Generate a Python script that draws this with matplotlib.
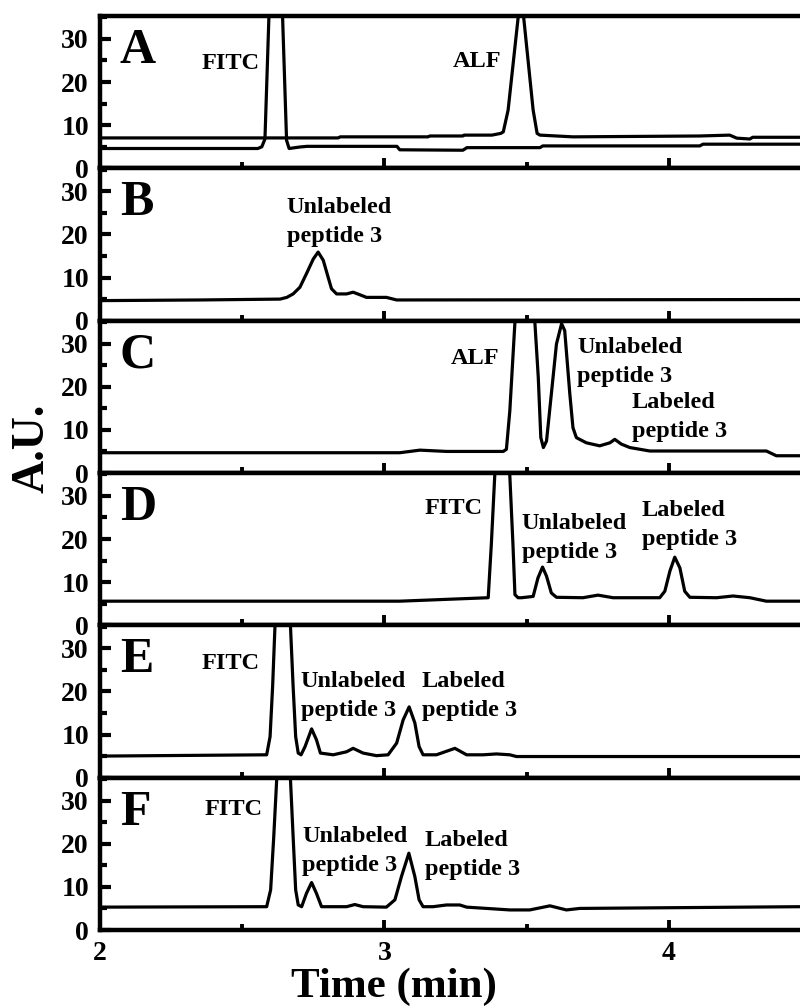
import matplotlib
matplotlib.use("Agg")
import matplotlib.pyplot as plt
from matplotlib.ticker import MultipleLocator

plt.rcParams['font.family'] = ['Liberation Serif', 'DejaVu Serif']
plt.rcParams['font.weight'] = 'bold'

# ---------------- data (time in min, signal in A.U.) ----------------
# Panel A, trace with FITC peak
tA1 = [2.000, 2.555, 2.569, 2.580, 2.618, 2.656, 2.665, 2.703, 2.728, 3.044, 3.054,
       3.276, 3.290, 3.547, 3.557, 4.109, 4.120, 4.460]
yA1 = [4.6, 4.6, 5.0, 6.8, 84.0, 6.5, 4.6, 4.95, 5.1, 5.1, 4.3,
       4.2, 4.8, 4.8, 5.2, 5.2, 5.6, 5.6]
# Panel A, trace with ALF peak
tA2 = [2.000, 2.837, 2.845, 3.153, 3.160, 3.276, 3.280, 3.378, 3.409, 3.418, 3.435,
       3.470, 3.480, 3.490, 3.523, 3.537, 3.547, 3.663, 4.109, 4.214, 4.239, 4.285,
       4.295, 4.460]
yA2 = [7.05, 7.05, 7.3, 7.3, 7.5, 7.5, 7.7, 7.7, 8.1, 8.45, 13.5,
       34.8, 45.0, 34.8, 13.5, 8.1, 7.7, 7.3, 7.5, 7.7, 7.0, 6.8,
       7.2, 7.2]
# Panel B
tB = [2.000, 2.351, 2.633, 2.657, 2.679, 2.703, 2.726, 2.750, 2.767, 2.785, 2.802,
      2.814, 2.832, 2.867, 2.890, 2.914, 2.937, 3.007, 3.043, 4.460]
yB = [4.65, 4.8, 5.0, 5.4, 6.2, 7.75, 10.9, 14.3, 15.9, 14.0, 10.1,
      7.4, 6.2, 6.2, 6.6, 6.0, 5.4, 5.4, 4.8, 4.9]
# Panel C
tC = [2.000, 3.054, 3.125, 3.219, 3.418, 3.429, 3.441, 3.459, 3.494, 3.529, 3.541,
      3.550, 3.559, 3.570, 3.587, 3.605, 3.623, 3.634, 3.652, 3.663, 3.675, 3.710,
      3.757, 3.793, 3.810, 3.833, 3.863, 3.933, 4.343, 4.378, 4.460]
yC = [4.7, 4.7, 5.3, 5.0, 5.0, 5.5, 14.4, 35.0, 72.0, 35.0, 22.2,
      8.2, 5.9, 7.4, 18.3, 29.9, 34.6, 33.0, 18.3, 10.5, 8.2, 7.0,
      6.3, 7.0, 7.8, 6.7, 5.9, 5.1, 5.1, 4.0, 4.0]
# Panel D
tD = [2.000, 3.054, 3.365, 3.376, 3.388, 3.414, 3.441, 3.452, 3.459, 3.470, 3.482,
      3.523, 3.540, 3.556, 3.570, 3.587, 3.605, 3.698, 3.751, 3.804, 3.968, 3.986,
      4.004, 4.021, 4.039, 4.056, 4.074, 4.168, 4.226, 4.285, 4.343, 4.460]
yD = [5.6, 5.6, 6.4, 18.8, 34.7, 70.0, 34.7, 18.8, 7.1, 6.4, 6.4,
      6.7, 11.0, 13.5, 11.4, 7.5, 6.5, 6.4, 7.0, 6.4, 6.4, 7.9,
      12.6, 15.8, 13.3, 7.9, 6.5, 6.4, 6.8, 6.4, 5.6, 5.6]
# Panel E
tE = [2.000, 2.586, 2.598, 2.607, 2.615, 2.642, 2.670, 2.679, 2.688, 2.697, 2.707,
      2.721, 2.744, 2.761, 2.775, 2.820, 2.867, 2.890, 2.925, 2.972, 3.013, 3.043,
      3.066, 3.087, 3.107, 3.122, 3.136, 3.183, 3.248, 3.289, 3.347, 3.394, 3.441,
      3.464, 4.460]
yE = [5.0, 5.3, 9.5, 21.2, 34.7, 80.0, 34.7, 21.2, 9.5, 5.7, 5.3,
      7.2, 11.3, 8.8, 5.7, 5.3, 6.0, 6.8, 5.7, 5.1, 5.3, 8.0,
      13.4, 16.4, 12.7, 7.2, 5.3, 5.3, 6.8, 5.3, 5.3, 5.5, 5.3,
      4.9, 4.9]
# Panel F
tF = [2.000, 2.586, 2.600, 2.611, 2.621, 2.645, 2.670, 2.679, 2.688, 2.697, 2.709,
      2.726, 2.744, 2.761, 2.779, 2.867, 2.896, 2.925, 3.007, 3.037, 3.060, 3.086,
      3.107, 3.122, 3.136, 3.171, 3.218, 3.265, 3.289, 3.441, 3.511, 3.582, 3.640,
      3.687, 4.460]
yF = [5.3, 5.4, 9.3, 21.7, 34.5, 67.0, 34.5, 21.7, 9.3, 5.8, 5.4,
      8.5, 11.0, 8.5, 5.4, 5.4, 5.9, 5.4, 5.3, 7.0, 12.4, 17.8,
      12.4, 7.0, 5.4, 5.4, 5.8, 5.8, 5.3, 4.65, 4.65, 5.6, 4.65,
      5.0, 5.4]

panel_letters = ['A', 'B', 'C', 'D', 'E', 'F']
xticks = [2, 3, 4]
yticks = [0, 10, 20, 30]

# annotations: (panel index, text, x, y of first-line baseline)
annotations = [
    (0, 'FITC', 2.358, 23.0),
    (0, 'ALF', 3.240, 23.5),
    (1, 'Unlabeled\npeptide 3', 2.657, 24.9),
    (2, 'ALF', 3.234, 25.3),
    (2, 'Unlabeled\npeptide 3', 3.677, 27.9),
    (2, 'Labeled\npeptide 3', 3.870, 15.1),
    (3, 'FITC', 3.142, 25.8),
    (3, 'Unlabeled\npeptide 3', 3.483, 22.3),
    (3, 'Labeled\npeptide 3', 3.905, 25.3),
    (4, 'FITC', 2.358, 25.1),
    (4, 'Unlabeled\npeptide 3', 2.706, 20.9),
    (4, 'Labeled\npeptide 3', 3.132, 20.9),
    (5, 'FITC', 2.369, 26.7),
    (5, 'Unlabeled\npeptide 3', 2.710, 20.5),
    (5, 'Labeled\npeptide 3', 3.142, 19.5),
]

traces = [[(tA1, yA1), (tA2, yA2)], [(tB, yB)], [(tC, yC)], [(tD, yD)],
          [(tE, yE)], [(tF, yF)]]

# ---------------- figure ----------------
fig = plt.figure(figsize=(8, 10.08), dpi=100)
left = 100 / 800
width = 711 / 800
bottom0 = 78 / 1008
ph = 152.33 / 1008
ymax = 35.3
px_per_unit = 152.33 / ymax
line_gap = 29 / px_per_unit

axes = []
for i in range(6):
    b = bottom0 + (5 - i) * ph
    ax = fig.add_axes([left, b, width, ph])
    axes.append(ax)
    for t, y in traces[i]:
        ax.plot(t, y, color='black', lw=2.3, solid_joinstyle='round',
                solid_capstyle='round')
    ax.set_xlim(2, 4.5)
    ax.set_ylim(0, ymax)
    ax.xaxis.set_minor_locator(MultipleLocator(0.5))
    ax.yaxis.set_minor_locator(MultipleLocator(5))
    ax.set_yticks(yticks)
    ax.set_xticks(xticks)
    for s in ax.spines.values():
        s.set_linewidth(3.2)
    ax.spines['right'].set_visible(False)
    ax.tick_params(axis='both', which='both', direction='in', top=False, right=False)
    ax.tick_params(axis='x', which='major', length=7, width=2.8, pad=8, labelsize=20)
    ax.tick_params(axis='x', which='minor', length=4, width=2.8)
    ax.tick_params(axis='y', which='major', length=8, width=3, pad=8, labelsize=20)
    ax.tick_params(axis='y', which='minor', length=5, width=3)
    if i < 5:
        ax.tick_params(axis='x', labelbottom=False)
    ax.text(2.07, ymax - 47 / px_per_unit, panel_letters[i], fontsize=36,
            fontweight='bold', ha='left', va='baseline')

for i, txt, x, y in annotations:
    for k, line in enumerate(txt.split('\n')):
        axes[i].text(x, y - k * line_gap, line, fontsize=17.5, fontweight='bold',
                     ha='left', va='baseline')

fig.text(394 / 800, 11 / 1008, 'Time (min)', fontsize=31, fontweight='bold',
         ha='center', va='baseline')
fig.text(32 / 800, 1 - 448 / 1008, 'A.U.', fontsize=33, fontweight='bold',
         ha='center', va='center', rotation=90)

fig.savefig('out.png', dpi=100)
